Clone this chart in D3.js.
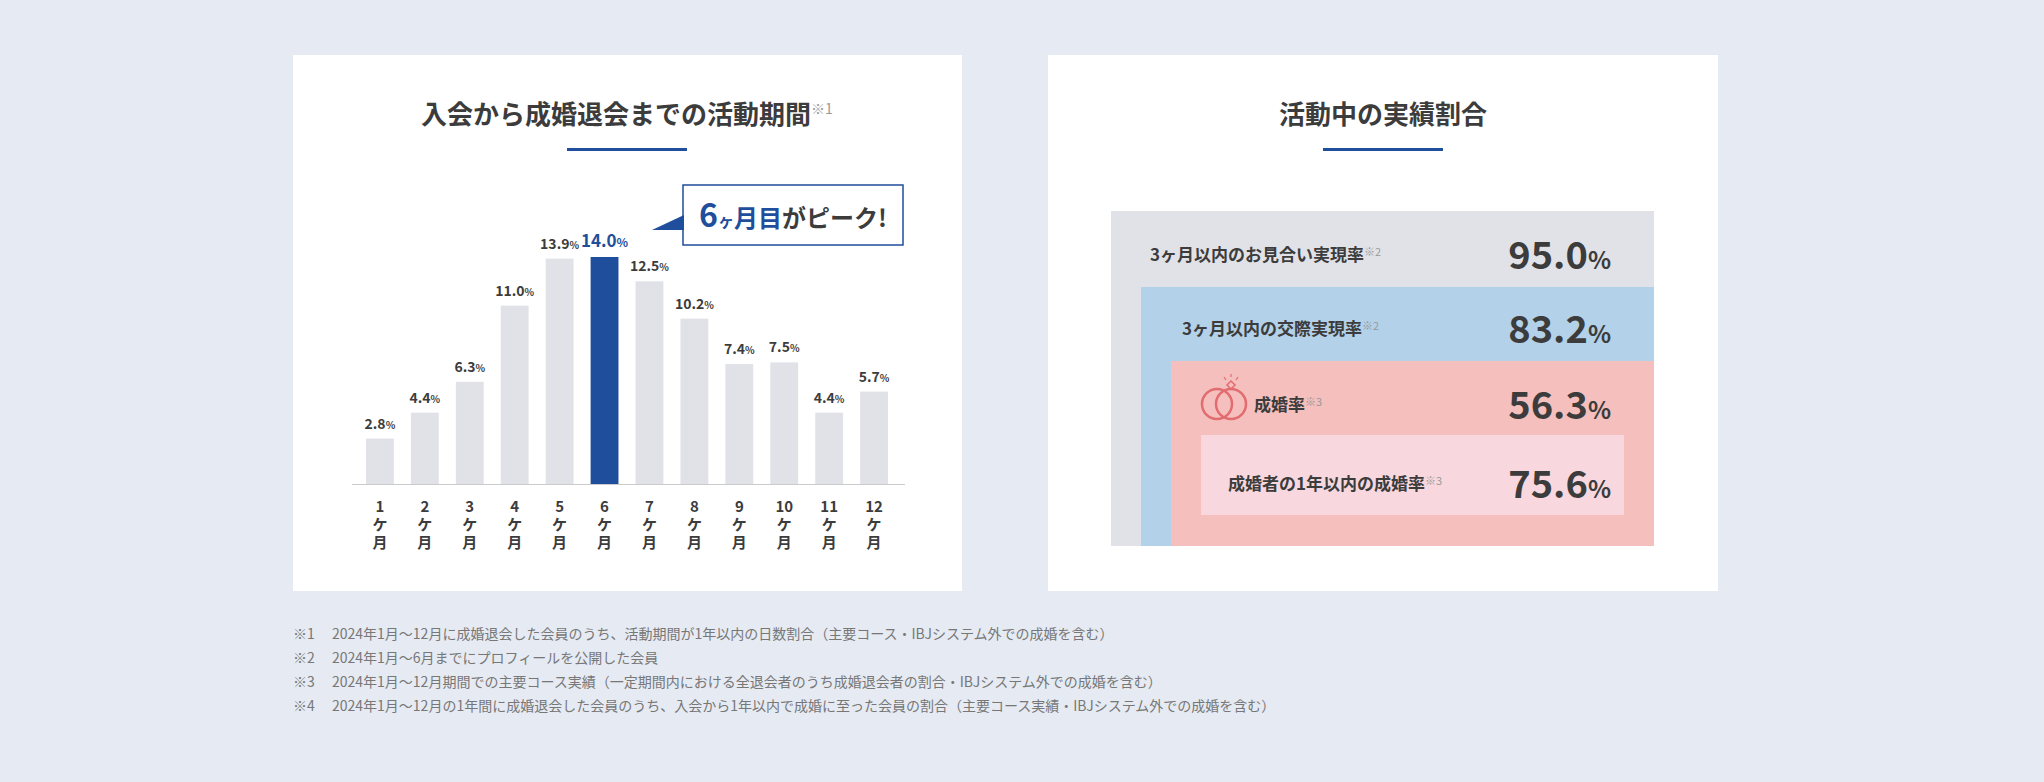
<!DOCTYPE html>
<html><head><meta charset="utf-8">
<script src="https://cdn.jsdelivr.net/npm/d3@7"></script>
<style>
body{margin:0;background:#e6eaf2;font-family:"Noto Sans CJK JP","Noto Sans",sans-serif;}
text{fill:#3c3c3c;}
</style></head><body>
<svg id="c" width="2044" height="782"></svg>
<script>
// データ
const months=['1','2','3','4','5','6','7','8','9','10','11','12'];
const durationPct=[2.8,4.4,6.3,11.0,13.9,14.0,12.5,10.2,7.4,7.5,4.4,5.7];
const peakMonth='6';
const rateLabels=['3ヶ月以内のお見合い実現率','3ヶ月以内の交際実現率','成婚率','成婚者の1年以内の成婚率'];
const rateNotes=['※2','※2','※3','※3'];
const rateValues=[95.0,83.2,56.3,75.6];
const footnotes=[
 ['※1','2024年1月～12月に成婚退会した会員のうち、活動期間が1年以内の日数割合（主要コース・IBJシステム外での成婚を含む）'],
 ['※2','2024年1月～6月までにプロフィールを公開した会員'],
 ['※3','2024年1月～12月期間での主要コース実績（一定期間内における全退会者のうち成婚退会者の割合・IBJシステム外での成婚を含む）'],
 ['※4','2024年1月～12月の1年間に成婚退会した会員のうち、入会から1年以内で成婚に至った会員の割合（主要コース実績・IBJシステム外での成婚を含む）']
];

const svg=d3.select('#c');
const blue='#1f4e9c';

// パネル
svg.append('rect').attr('x',293).attr('y',55).attr('width',669).attr('height',536).attr('fill','#fff');
svg.append('rect').attr('x',1048).attr('y',55).attr('width',670).attr('height',536).attr('fill','#fff');

const title=(cx,t,note)=>{
  const tx=svg.append('text').attr('x',cx).attr('y',124).attr('text-anchor','middle')
    .attr('font-size',26).attr('font-weight',700).text(t);
  if(note) tx.append('tspan').attr('font-size',14).attr('font-weight',400).attr('fill','#999').attr('dy',-10).text(note);
  svg.append('rect').attr('x',cx-60).attr('y',148).attr('width',120).attr('height',3).attr('fill',blue);
};
title(627,'入会から成婚退会までの活動期間','※1');
title(1383,'活動中の実績割合');

// 棒グラフ
const x=d3.scaleBand().domain(months).range([366,888]).paddingInner(0.38).paddingOuter(0);
const y=d3.scaleLinear().domain([0,14]).range([484,257]);
const g=svg.append('g');
g.selectAll('rect.bar').data(months).join('rect')
  .attr('x',d=>x(d)).attr('width',x.bandwidth())
  .attr('y',(d,i)=>y(durationPct[i])).attr('height',(d,i)=>y(0)-y(durationPct[i]))
  .attr('fill',d=>d===peakMonth?blue:'#e1e2e8');
g.append('line').attr('x1',352).attr('x2',905).attr('y1',484.5).attr('y2',484.5).attr('stroke','#ccc');
g.selectAll('text.val').data(months).join('text')
  .attr('x',d=>x(d)+x.bandwidth()/2).attr('y',(d,i)=>y(durationPct[i])-10)
  .attr('text-anchor','middle').attr('font-weight',700)
  .attr('font-size',d=>d===peakMonth?17:14)
  .style('fill',d=>d===peakMonth?blue:'#3c3c3c')
  .each(function(d,i){
    const t=d3.select(this);
    t.append('tspan').text(durationPct[i].toFixed(1));
    t.append('tspan').attr('font-size',d===peakMonth?12:10).text('%');
  });
const xl=g.selectAll('g.xl').data(months).join('g').attr('transform',d=>`translate(${x(d)+x.bandwidth()/2},0)`);
['', 'ケ','月'].forEach((s,k)=>{
  xl.append('text').attr('y',512+k*18).attr('text-anchor','middle').attr('font-size',15).attr('font-weight',700)
    .text(d=>k===0?d:s);
});

// 吹き出し
svg.append('rect').attr('x',683).attr('y',185).attr('width',220).attr('height',60).attr('fill','#fff').attr('stroke',blue).attr('stroke-width',1.5);
svg.append('path').attr('d','M652,230 L684,215 L684,230 Z').attr('fill',blue);
const ct=svg.append('text').attr('x',793).attr('y',227).attr('text-anchor','middle').attr('font-weight',700);
ct.append('tspan').attr('font-size',32).style('fill',blue).text('6');
ct.append('tspan').attr('font-size',16).style('fill',blue).text('ヶ');
ct.append('tspan').attr('font-size',24).style('fill',blue).text('月目');
ct.append('tspan').attr('font-size',24).text('がピーク!');

// 入れ子の割合ボックス
const boxes=[[1111,211,543,335,'#e1e2e8'],[1141,287,513,259,'#b3d1e8'],[1171,361,483,185,'#f4bfbc'],[1201,435,423,80,'#f8d8de']];
svg.selectAll('rect.box').data(boxes).join('rect')
  .attr('x',d=>d[0]).attr('y',d=>d[1]).attr('width',d=>d[2]).attr('height',d=>d[3]).attr('fill',d=>d[4]);
const lx=[1150,1182,1254,1228], ly=[255,329,405,484];
rateLabels.forEach((l,i)=>{
  const t=svg.append('text').attr('x',lx[i]).attr('y',ly[i]+6).attr('font-size',17).attr('font-weight',700).text(l);
  t.append('tspan').attr('font-size',11).attr('font-weight',400).attr('fill','#999').attr('dy',-5).text(rateNotes[i]);
  const v=svg.append('text').attr('x',1611).attr('y',ly[i]+14).attr('text-anchor','end').attr('font-weight',700).attr('font-size',38);
  v.append('tspan').text(rateValues[i].toFixed(1));
  v.append('tspan').attr('font-size',24).text('%');
});
// 指輪アイコン
const ic=svg.append('g').attr('transform','translate(1223,404)').attr('fill','none').attr('stroke','#e26c70').attr('stroke-width',2.5);
ic.append('circle').attr('cx',-6).attr('cy',0).attr('r',15);
ic.append('circle').attr('cx',8).attr('cy',0).attr('r',15);
ic.append('path').attr('d','M4,-19 l4,-4 l4,4 l-4,4 z').attr('stroke-width',1.5);
ic.append('path').attr('d','M1,-27 l2,3 M8,-30 v3 M15,-27 l-2,3').attr('stroke-width',1.2);

// 注記
footnotes.forEach((f,i)=>{
  const t=svg.append('text').attr('x',293).attr('y',639+i*24).attr('font-size',14).style('fill','#777');
  t.append('tspan').text(f[0]);
  t.append('tspan').attr('x',332).text(f[1]);
});
</script>
</body></html>
